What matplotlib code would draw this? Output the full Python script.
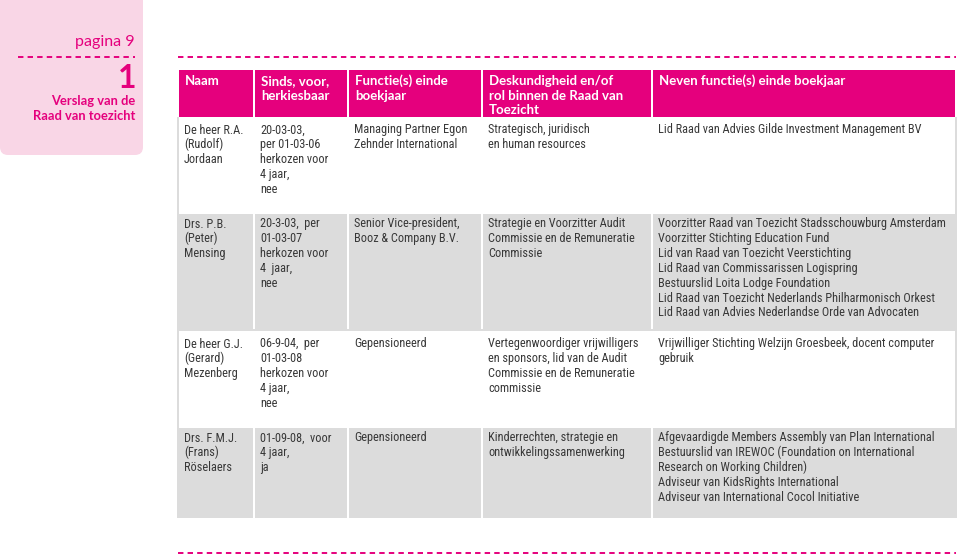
"""Recreate the 'Raad van toezicht' table page (pagina 9) as a matplotlib figure."""

import matplotlib

matplotlib.use("Agg")
import matplotlib.pyplot as plt
from matplotlib import font_manager
from matplotlib.patches import FancyBboxPatch, Rectangle

# ---- content -------------------------------------------------------------
PAGE_LABEL = "pagina 9"
CHAPTER_NO = "1"
CHAPTER_TITLE = ["Verslag van de", "Raad van toezicht"]

HEADERS = [
    ["Naam"],
    ["Sinds, voor,", "herkiesbaar"],
    ["Functie(s) einde", "boekjaar"],
    ["Deskundigheid en/of", "rol binnen de Raad van", "Toezicht"],
    ["Neven functie(s) einde boekjaar"],
]

NAMES = [
    ["De heer R.A.", "(Rudolf)", "Jordaan"],
    ["Drs. P.B.", "(Peter)", "Mensing"],
    ["De heer G.J.", "(Gerard)", "Mezenberg"],
    ["Drs. F.M.J.", "(Frans)", "Röselaers"],
]
SINDS = [
    ["20-03-03,", "per 01-03-06", "herkozen voor", "4 jaar,", "nee"],
    ["20-3-03,  per", "01-03-07", "herkozen voor", "4  jaar,", "nee"],
    ["06-9-04,  per", "01-03-08", "herkozen voor", "4 jaar,", "nee"],
    ["01-09-08,  voor", "4 jaar,", "ja"],
]
FUNCTIES = [
    ["Managing Partner Egon", "Zehnder International"],
    ["Senior Vice-president,", "Booz & Company B.V."],
    ["Gepensioneerd"],
    ["Gepensioneerd"],
]
DESKUNDIGHEID = [
    ["Strategisch, juridisch", "en human resources"],
    ["Strategie en Voorzitter Audit", "Commissie en de Remuneratie", "Commissie"],
    ["Vertegenwoordiger vrijwilligers", "en sponsors, lid van de Audit",
     "Commissie en de Remuneratie", "commissie"],
    ["Kinderrechten, strategie en", "ontwikkelingssamenwerking"],
]
NEVENFUNCTIES = [
    ["Lid Raad van Advies Gilde Investment Management BV"],
    ["Voorzitter Raad van Toezicht Stadsschouwburg Amsterdam",
     "Voorzitter Stichting Education Fund",
     "Lid van Raad van Toezicht Veerstichting",
     "Lid Raad van Commissarissen Logispring",
     "Bestuurslid Loita Lodge Foundation",
     "Lid Raad van Toezicht Nederlands Philharmonisch Orkest",
     "Lid Raad van Advies Nederlandse Orde van Advocaten"],
    ["Vrijwilliger Stichting Welzijn Groesbeek, docent computer", "gebruik"],
    ["Afgevaardigde Members Assembly van Plan International",
     "Bestuurslid van IREWOC (Foundation on International",
     "Research on Working Children)",
     "Adviseur van KidsRights International",
     "Adviseur van International Cocol Initiative"],
]

# ---- layout / style (pixel coordinates, y downwards) ---------------------
COL_EDGES = [178, 254, 348, 482, 652, 956]
HEADER_TOP, HEADER_BOTTOM = 70, 117
ROW_EDGES = [(117, 214), (214, 329), (331, 428), (428, 518)]
ROW_SHADED = [False, True, False, True]
LINE = 14.8
DASHES = (3.9, 3.0)

PINK = "#e5007d"
SIDEBAR_BG = "#f9d6e6"
GREY = "#dcdcdc"
TEXT = "#383838"


def _pick_font(candidates):
    names = {f.name for f in font_manager.fontManager.ttflist}
    for name in candidates:
        if name in names:
            return name
    return "DejaVu Sans"


BODY_FONT = _pick_font(["Liberation Sans Narrow", "Roboto Condensed", "Lato"])
HEAD_FONT = _pick_font(["Lato", "Open Sans", "Roboto"])
BODY_SIZE = 8.8 if BODY_FONT != "Lato" else 8.4


def main() -> None:
    plt.rcParams["lines.scale_dashes"] = False
    fig = plt.figure(figsize=(9.6, 5.56), dpi=100)
    ax = fig.add_axes([0, 0, 1, 1])
    ax.set_xlim(0, 960)
    ax.set_ylim(556, 0)
    ax.axis("off")

    # sidebar
    ax.add_patch(FancyBboxPatch((0, -30), 143, 185, boxstyle="round,pad=0,rounding_size=8",
                                facecolor=SIDEBAR_BG, edgecolor="none"))
    ax.text(135, 42, PAGE_LABEL, ha="right", va="center", color=PINK,
            fontsize=11.5, family=HEAD_FONT)
    ax.plot([18, 135], [57, 57], color=PINK, lw=1.4, dashes=DASHES)
    ax.text(136, 79, CHAPTER_NO, ha="right", va="center", color=PINK,
            fontsize=23, fontweight="bold", family=HEAD_FONT)
    for i, line in enumerate(CHAPTER_TITLE):
        ax.text(135, 101 + i * 15, line, ha="right", va="center", color=PINK,
                fontsize=9.3, fontweight="bold", family=HEAD_FONT)

    # dashed rules above and below the table
    ax.plot([178, 956], [57, 57], color=PINK, lw=1.4, dashes=DASHES)
    ax.plot([178, 956], [553, 553], color=PINK, lw=1.4, dashes=DASHES)

    # header
    for c, lines in enumerate(HEADERS):
        x0, x1 = COL_EDGES[c], COL_EDGES[c + 1]
        ax.add_patch(Rectangle((x0 + 1, HEADER_TOP), x1 - x0 - 2, HEADER_BOTTOM - HEADER_TOP,
                               facecolor=PINK, edgecolor="none"))
        for i, line in enumerate(lines):
            ax.text(x0 + 7, 81 + i * 14.5, line, ha="left", va="center", color="white",
                    fontsize=9.5, fontweight="bold", family=HEAD_FONT)

    # table body: grey frame, then rows
    ax.add_patch(Rectangle((177, 117), 780, 401, facecolor=GREY, edgecolor="none"))
    columns = [NAMES, SINDS, FUNCTIES, DESKUNDIGHEID, NEVENFUNCTIES]
    for r, (top, bottom) in enumerate(ROW_EDGES):
        if ROW_SHADED[r]:
            for x in COL_EDGES[1:-1]:
                ax.add_patch(Rectangle((x - 1, top), 2, bottom - top,
                                       facecolor="white", edgecolor="none"))
            first = top + 10
        else:
            ax.add_patch(Rectangle((179, top), 776, bottom - top,
                                   facecolor="white", edgecolor="none"))
            first = top + 13
        for c, col in enumerate(columns):
            for i, line in enumerate(col[r]):
                ax.text(COL_EDGES[c] + 6, first + i * LINE, line, ha="left", va="center",
                        color=TEXT, fontsize=BODY_SIZE, family=BODY_FONT)

    fig.savefig("out.png", dpi=100)
    plt.close(fig)


if __name__ == "__main__":
    main()
